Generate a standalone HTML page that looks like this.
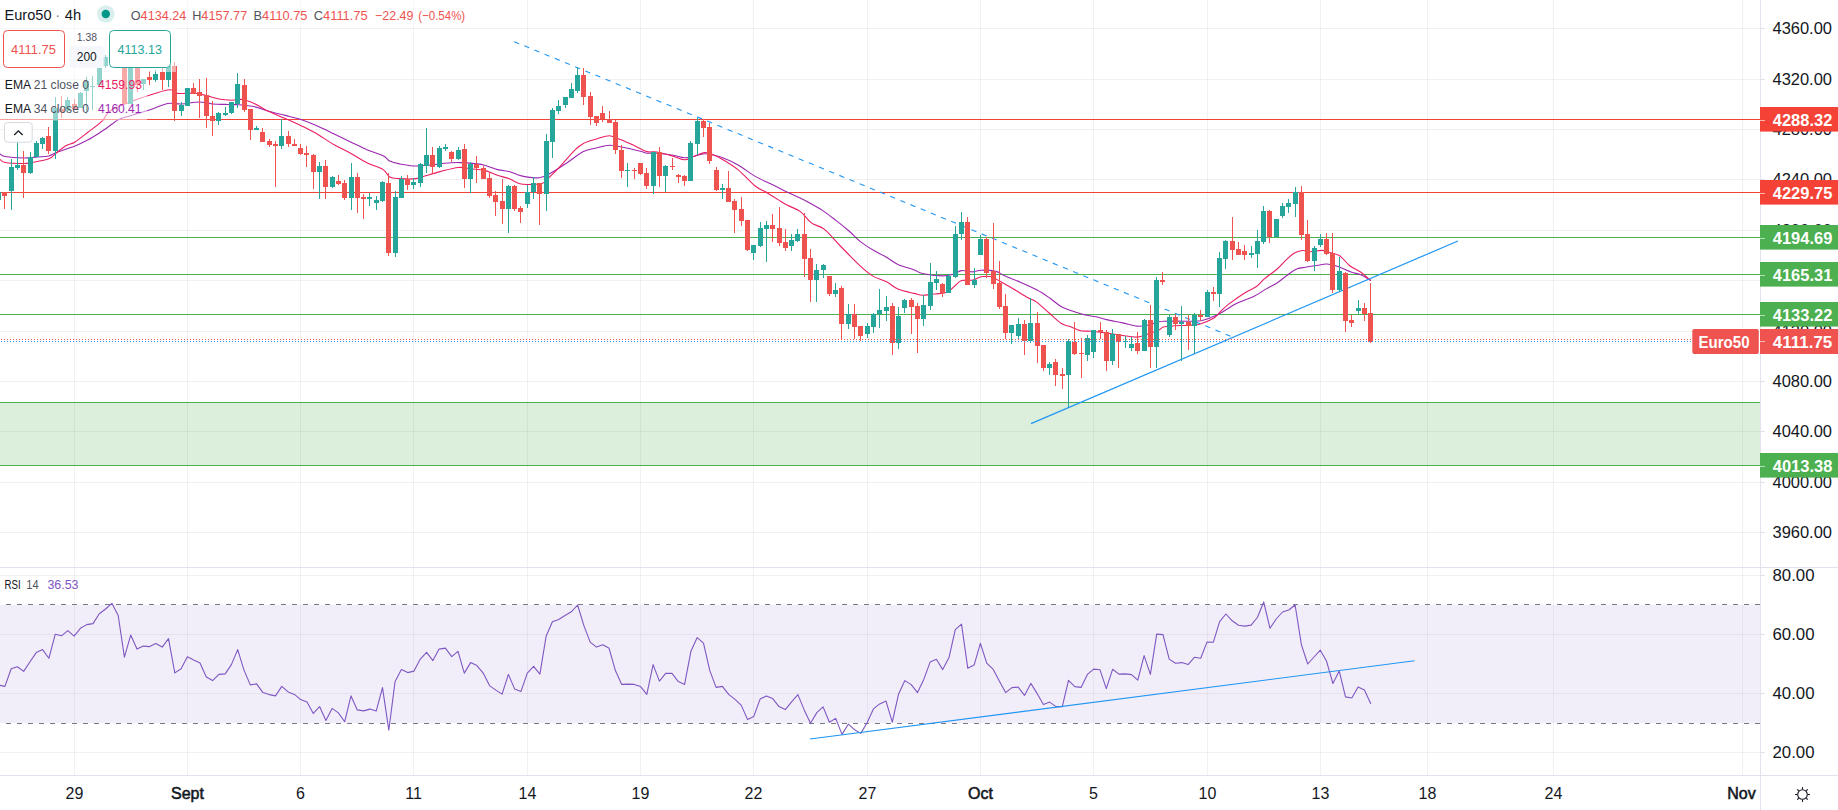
<!DOCTYPE html>
<html lang="en"><head><meta charset="utf-8"><title>Euro50 4h chart</title>
<style>html,body{margin:0;padding:0;background:#fff;}body{width:1838px;height:810px;overflow:hidden;font-family:"Liberation Sans",sans-serif;}svg{display:block}</style>
</head><body>
<svg width="1838" height="810" viewBox="0 0 1838 810" font-family="Liberation Sans, sans-serif">
<rect width="1838" height="810" fill="#fff"/>
<defs><clipPath id="cp"><rect x="0" y="0" width="1760" height="567"/></clipPath><clipPath id="cr"><rect x="0" y="568" width="1760" height="207"/></clipPath></defs>
<g shape-rendering="crispEdges">
<rect x="74" y="0" width="1" height="775" fill="#2a2e39" fill-opacity="0.065"/>
<rect x="187" y="0" width="1" height="775" fill="#2a2e39" fill-opacity="0.065"/>
<rect x="300" y="0" width="1" height="775" fill="#2a2e39" fill-opacity="0.065"/>
<rect x="413" y="0" width="1" height="775" fill="#2a2e39" fill-opacity="0.065"/>
<rect x="527" y="0" width="1" height="775" fill="#2a2e39" fill-opacity="0.065"/>
<rect x="640" y="0" width="1" height="775" fill="#2a2e39" fill-opacity="0.065"/>
<rect x="753" y="0" width="1" height="775" fill="#2a2e39" fill-opacity="0.065"/>
<rect x="867" y="0" width="1" height="775" fill="#2a2e39" fill-opacity="0.065"/>
<rect x="980" y="0" width="1" height="775" fill="#2a2e39" fill-opacity="0.065"/>
<rect x="1093" y="0" width="1" height="775" fill="#2a2e39" fill-opacity="0.065"/>
<rect x="1207" y="0" width="1" height="775" fill="#2a2e39" fill-opacity="0.065"/>
<rect x="1320" y="0" width="1" height="775" fill="#2a2e39" fill-opacity="0.065"/>
<rect x="1427" y="0" width="1" height="775" fill="#2a2e39" fill-opacity="0.065"/>
<rect x="1553" y="0" width="1" height="775" fill="#2a2e39" fill-opacity="0.065"/>
<rect x="1742" y="0" width="1" height="775" fill="#2a2e39" fill-opacity="0.065"/>
<rect x="0" y="28" width="1760" height="1" fill="#2a2e39" fill-opacity="0.065"/>
<rect x="0" y="79" width="1760" height="1" fill="#2a2e39" fill-opacity="0.065"/>
<rect x="0" y="129" width="1760" height="1" fill="#2a2e39" fill-opacity="0.065"/>
<rect x="0" y="179" width="1760" height="1" fill="#2a2e39" fill-opacity="0.065"/>
<rect x="0" y="230" width="1760" height="1" fill="#2a2e39" fill-opacity="0.065"/>
<rect x="0" y="280" width="1760" height="1" fill="#2a2e39" fill-opacity="0.065"/>
<rect x="0" y="331" width="1760" height="1" fill="#2a2e39" fill-opacity="0.065"/>
<rect x="0" y="381" width="1760" height="1" fill="#2a2e39" fill-opacity="0.065"/>
<rect x="0" y="431" width="1760" height="1" fill="#2a2e39" fill-opacity="0.065"/>
<rect x="0" y="482" width="1760" height="1" fill="#2a2e39" fill-opacity="0.065"/>
<rect x="0" y="532" width="1760" height="1" fill="#2a2e39" fill-opacity="0.065"/>
<rect x="0" y="575" width="1760" height="1" fill="#2a2e39" fill-opacity="0.065"/>
<rect x="0" y="634" width="1760" height="1" fill="#2a2e39" fill-opacity="0.065"/>
<rect x="0" y="693" width="1760" height="1" fill="#2a2e39" fill-opacity="0.065"/>
<rect x="0" y="752" width="1760" height="1" fill="#2a2e39" fill-opacity="0.065"/>
</g>
<g shape-rendering="crispEdges">
<rect x="0" y="605" width="1760" height="118" fill="#7e57c2" fill-opacity="0.1"/>
</g>
<line x1="0" y1="604.5" x2="1760" y2="604.5" stroke="#787b86" stroke-width="1" stroke-dasharray="5 6" stroke-dashoffset="5" shape-rendering="crispEdges"/>
<line x1="0" y1="723.5" x2="1760" y2="723.5" stroke="#787b86" stroke-width="1" stroke-dasharray="5 6" stroke-dashoffset="5" shape-rendering="crispEdges"/>
<g shape-rendering="crispEdges">
<rect x="0" y="402" width="1760" height="64" fill="#4caf50" fill-opacity="0.2"/>
<rect x="0" y="402" width="1760" height="1" fill="#4caf50"/>
<rect x="0" y="465" width="1760" height="1" fill="#4caf50"/>
<rect x="0" y="119" width="1760" height="1" fill="#f44336"/>
<rect x="0" y="192" width="1760" height="1" fill="#f44336"/>
<rect x="0" y="237" width="1760" height="1" fill="#4caf50"/>
<rect x="0" y="274" width="1760" height="1" fill="#4caf50"/>
<rect x="0" y="314" width="1760" height="1" fill="#4caf50"/>
</g>
<path d="M-2.0,153.5 C-1.7,153.6 -1.2,153.5 0.0,154.0 C1.2,154.5 1.0,155.8 5.0,156.5 C9.0,157.2 18.4,157.9 23.8,158.0 C29.2,158.1 33.3,157.3 37.5,157.0 C41.7,156.7 45.7,156.8 48.8,156.0 C51.9,155.2 51.9,154.2 56.3,152.5 C60.7,150.8 69.8,148.1 75.0,146.0 C80.2,143.9 83.4,142.2 87.6,140.0 C91.8,137.8 95.8,135.2 100.0,132.5 C104.2,129.8 109.5,125.9 112.6,123.8 C115.6,121.7 115.0,121.2 118.3,119.7 C121.6,118.2 127.4,116.7 132.7,115.0 C138.0,113.3 144.4,111.7 150.2,109.8 C156.0,107.9 162.5,104.5 167.7,103.5 C172.9,102.5 176.3,104.2 181.5,104.0 C186.7,103.8 193.8,102.0 199.0,102.0 C204.2,102.0 208.5,103.6 212.8,104.0 C217.1,104.4 221.1,104.3 225.0,104.4 C228.9,104.5 231.7,104.3 236.3,104.6 C240.9,104.9 247.2,105.2 252.6,106.3 C258.1,107.4 263.6,109.7 269.0,111.2 C274.4,112.7 279.9,114.0 285.3,115.4 C290.7,116.8 296.2,118.0 301.6,119.8 C307.0,121.6 312.5,123.9 317.9,126.3 C323.3,128.7 328.8,131.4 334.2,134.0 C339.6,136.6 345.2,139.3 350.6,141.9 C356.1,144.5 361.5,147.4 366.9,149.7 C372.3,152.0 379.4,153.8 383.2,155.7 C387.0,157.6 387.0,159.6 389.7,161.0 C392.4,162.4 395.1,163.1 399.5,163.9 C403.9,164.7 410.4,165.9 415.9,166.0 C421.3,166.1 426.8,165.2 432.2,164.7 C437.6,164.2 443.9,163.3 448.5,163.0 C453.1,162.7 454.5,162.4 459.9,162.6 C465.3,162.8 474.8,163.2 481.1,164.4 C487.4,165.6 492.7,168.4 497.5,169.6 C502.3,170.8 506.0,170.8 510.0,171.8 C514.0,172.9 516.5,174.9 521.4,175.9 C526.3,176.9 534.5,178.3 539.4,177.8 C544.3,177.3 546.2,175.5 550.8,173.0 C555.4,170.5 561.7,166.3 567.1,162.7 C572.5,159.1 578.5,154.0 583.4,151.6 C588.3,149.2 592.1,149.1 596.5,148.0 C600.9,146.9 605.0,145.3 609.6,145.2 C614.2,145.1 619.0,146.5 624.2,147.5 C629.4,148.5 636.8,150.4 640.6,151.3 C644.4,152.2 644.4,152.9 647.1,153.2 C649.8,153.5 652.5,152.8 656.9,153.2 C661.2,153.5 668.6,154.5 673.2,155.3 C677.8,156.1 681.1,157.7 684.6,157.8 C688.1,158.0 691.1,156.9 694.4,156.2 C697.7,155.5 701.2,153.9 704.2,153.7 C707.2,153.5 709.4,154.2 712.4,154.8 C715.4,155.4 717.9,155.8 722.2,157.5 C726.6,159.2 733.1,162.1 738.5,165.2 C743.9,168.3 749.4,172.9 754.8,176.1 C760.2,179.2 765.6,181.4 771.1,184.1 C776.6,186.8 782.3,189.8 787.5,192.3 C792.7,194.8 798.4,197.3 802.1,199.1 C805.9,200.9 806.5,201.3 810.0,203.2 C813.5,205.1 818.5,207.7 822.8,210.6 C827.1,213.5 831.5,217.0 835.9,220.4 C840.3,223.8 844.9,227.5 849.0,231.0 C853.1,234.5 856.3,238.4 860.4,241.6 C864.5,244.8 869.0,247.7 873.4,250.3 C877.8,252.9 882.4,254.8 886.5,257.2 C890.6,259.6 893.3,262.4 897.9,264.5 C902.5,266.6 910.1,268.4 914.2,269.9 C918.3,271.4 917.8,272.5 922.4,273.5 C927.0,274.5 936.8,275.8 942.0,275.9 C947.2,276.0 950.1,275.2 953.4,274.3 C956.7,273.4 958.3,271.0 961.6,270.6 C964.9,270.2 969.7,272.0 973.0,271.9 C976.3,271.8 977.4,270.3 981.2,270.2 C985.0,270.1 992.1,270.5 995.9,271.4 C999.7,272.3 999.9,273.7 1004.0,275.5 C1008.1,277.3 1014.8,279.8 1020.3,282.2 C1025.8,284.6 1031.8,287.2 1036.7,289.8 C1041.6,292.4 1045.6,295.2 1049.7,298.0 C1053.8,300.8 1056.5,304.0 1061.1,306.5 C1065.7,309.0 1073.1,311.3 1077.5,312.8 C1081.9,314.3 1083.8,314.6 1087.3,315.3 C1090.8,316.0 1095.0,316.5 1098.2,317.2 C1101.4,317.9 1102.2,318.7 1106.3,319.6 C1110.4,320.6 1117.4,321.8 1122.6,322.9 C1127.8,324.0 1133.2,325.7 1137.3,326.1 C1141.4,326.5 1144.1,325.8 1147.1,325.3 C1150.1,324.8 1152.6,323.6 1155.3,322.9 C1158.0,322.2 1158.0,321.5 1163.4,321.2 C1168.8,320.9 1181.6,321.3 1187.9,321.2 C1194.2,321.1 1196.7,321.6 1201.0,320.8 C1205.3,320.0 1210.7,317.6 1214.0,316.3 C1217.3,315.0 1216.8,315.3 1220.6,313.1 C1224.4,310.9 1231.5,306.0 1236.9,303.3 C1242.3,300.6 1248.3,299.1 1253.2,296.7 C1258.1,294.3 1262.2,291.3 1266.3,288.9 C1270.4,286.5 1273.9,285.0 1277.7,282.5 C1281.5,280.0 1285.8,276.0 1289.1,273.7 C1292.4,271.4 1294.6,269.9 1297.3,268.8 C1300.0,267.7 1301.9,267.8 1305.4,267.2 C1308.9,266.6 1315.0,265.7 1318.5,265.2 C1322.0,264.7 1323.4,263.8 1326.7,264.0 C1330.0,264.2 1334.0,265.0 1338.1,266.4 C1342.2,267.8 1347.3,270.7 1351.1,272.1 C1354.9,273.5 1357.7,273.4 1360.9,274.8 C1364.1,276.2 1368.8,279.4 1370.4,280.3" fill="none" stroke="#9c27b0" stroke-width="1.1" stroke-linejoin="round" stroke-linecap="round"/>
<path d="M-2.0,158.5 C-1.7,158.7 -1.2,158.7 0.0,159.4 C1.2,160.1 1.0,161.8 5.0,162.5 C9.0,163.2 19.2,163.5 23.8,163.5 C28.4,163.5 28.3,163.3 32.5,162.5 C36.7,161.7 44.8,160.4 48.8,158.8 C52.8,157.2 53.4,155.2 56.3,153.0 C59.2,150.8 63.2,147.4 66.3,145.6 C69.4,143.8 71.5,144.2 75.0,142.0 C78.5,139.8 83.0,136.1 87.6,132.5 C92.2,128.9 98.9,124.2 102.6,120.6 C106.3,117.0 105.0,114.3 110.0,111.0 C115.0,107.7 123.1,104.5 132.7,101.0 C142.3,97.5 160.7,91.3 167.7,90.0 C174.7,88.7 172.2,92.4 174.5,93.0 C176.8,93.6 178.1,93.5 181.5,93.5 C184.9,93.5 191.0,92.9 195.2,93.2 C199.4,93.5 202.5,94.6 206.5,95.6 C210.5,96.6 214.8,98.2 219.0,99.0 C223.2,99.8 227.7,100.1 231.4,100.2 C235.1,100.3 237.7,99.0 241.2,99.4 C244.7,99.8 248.0,100.7 252.6,102.7 C257.2,104.7 263.6,109.0 269.0,111.6 C274.4,114.2 279.9,116.1 285.3,118.5 C290.7,120.9 296.2,123.2 301.6,125.9 C307.0,128.6 312.5,131.3 317.9,134.5 C323.3,137.7 328.8,141.7 334.2,144.8 C339.6,147.9 345.2,150.3 350.6,153.3 C356.1,156.3 361.5,160.1 366.9,162.8 C372.3,165.5 379.4,167.2 383.2,169.6 C387.0,172.0 387.0,175.5 389.7,177.0 C392.4,178.5 395.1,178.3 399.5,178.6 C403.9,178.9 411.5,179.1 415.9,178.6 C420.2,178.1 421.5,177.0 425.6,175.8 C429.7,174.6 434.9,173.0 440.3,171.6 C445.8,170.2 453.1,168.0 458.3,167.5 C463.5,167.0 467.0,168.3 471.3,168.8 C475.6,169.3 480.0,169.3 484.4,170.4 C488.8,171.5 493.4,173.9 497.5,175.3 C501.6,176.7 505.2,177.2 508.9,178.6 C512.6,180.0 516.1,182.8 519.8,183.8 C523.5,184.8 527.4,184.5 531.2,184.4 C535.0,184.3 539.6,184.5 542.6,183.3 C545.6,182.1 546.5,180.0 549.2,177.4 C551.9,174.8 554.6,172.2 559.0,167.6 C563.4,163.0 571.2,153.6 575.3,149.6 C579.4,145.6 579.9,145.2 583.4,143.4 C586.9,141.6 592.1,140.3 596.5,139.0 C600.9,137.7 605.5,135.6 609.6,135.7 C613.7,135.8 616.9,138.2 621.0,139.8 C625.1,141.4 629.6,143.5 634.0,145.5 C638.4,147.5 643.3,150.5 647.1,151.6 C650.9,152.7 652.5,151.2 656.9,152.0 C661.2,152.8 668.6,154.9 673.2,156.2 C677.8,157.5 681.1,159.8 684.6,159.8 C688.1,159.8 691.1,157.4 694.4,156.2 C697.7,155.0 701.2,152.9 704.2,152.6 C707.2,152.3 709.4,153.4 712.4,154.5 C715.4,155.6 717.9,156.7 722.2,159.3 C726.6,161.9 733.1,165.7 738.5,170.1 C743.9,174.5 750.2,182.0 754.8,185.7 C759.4,189.4 762.1,189.9 766.2,192.3 C770.3,194.8 775.8,198.2 779.3,200.4 C782.8,202.6 784.0,203.4 787.5,205.3 C791.0,207.2 796.5,208.7 800.5,211.6 C804.5,214.5 807.4,219.9 811.4,222.9 C815.4,225.9 819.6,225.5 824.5,229.4 C829.4,233.3 834.8,240.4 840.8,246.5 C846.8,252.6 855.0,261.1 860.4,266.1 C865.8,271.1 869.0,273.8 873.4,276.4 C877.8,279.0 882.4,279.6 886.5,281.7 C890.6,283.8 893.3,287.1 897.9,289.0 C902.5,290.9 910.1,292.4 914.2,293.4 C918.3,294.4 919.7,295.0 922.4,295.2 C925.1,295.4 926.5,294.9 930.6,294.4 C934.7,293.9 942.8,293.8 946.9,292.3 C951.0,290.9 952.5,287.7 955.0,285.7 C957.5,283.7 958.6,281.4 961.6,280.5 C964.6,279.6 969.7,280.6 973.0,280.0 C976.3,279.4 978.2,277.3 981.2,276.8 C984.2,276.3 987.7,276.0 991.0,276.8 C994.3,277.6 997.3,279.8 1000.8,281.7 C1004.3,283.6 1007.6,285.5 1012.2,288.2 C1016.8,290.9 1024.4,295.7 1028.5,298.0 C1032.6,300.3 1033.2,299.5 1036.7,302.1 C1040.2,304.7 1045.6,310.0 1049.7,313.5 C1053.8,317.0 1057.8,321.2 1061.1,323.3 C1064.4,325.4 1066.0,325.1 1069.3,326.3 C1072.6,327.6 1077.2,330.0 1080.7,330.8 C1084.2,331.6 1086.2,330.8 1090.5,331.2 C1094.8,331.6 1101.0,332.3 1106.3,333.0 C1111.6,333.7 1117.4,334.8 1122.6,335.5 C1127.8,336.2 1133.2,337.3 1137.3,337.1 C1141.4,336.9 1143.6,335.5 1147.1,334.3 C1150.6,333.1 1155.8,331.4 1158.5,330.2 C1161.2,329.0 1160.7,327.7 1163.4,327.0 C1166.1,326.3 1170.8,326.1 1174.9,325.8 C1179.0,325.5 1183.8,325.6 1187.9,325.3 C1192.0,325.0 1195.1,325.4 1199.4,324.2 C1203.8,323.0 1210.5,320.1 1214.0,318.0 C1217.5,315.9 1218.1,313.7 1220.6,311.4 C1223.0,309.1 1224.6,307.2 1228.7,304.1 C1232.8,301.0 1240.4,295.6 1245.0,292.7 C1249.6,289.8 1253.2,288.8 1256.5,286.5 C1259.8,284.2 1261.1,281.7 1264.6,278.7 C1268.1,275.7 1274.2,271.6 1277.7,268.5 C1281.2,265.4 1283.2,262.7 1285.9,260.2 C1288.6,257.7 1291.3,254.9 1294.0,253.3 C1296.7,251.7 1299.5,250.8 1302.2,250.5 C1304.9,250.2 1307.0,251.7 1310.3,251.7 C1313.6,251.7 1318.5,250.3 1321.8,250.4 C1325.1,250.5 1326.9,251.6 1329.9,252.5 C1332.9,253.4 1336.4,253.5 1339.7,255.7 C1343.0,257.9 1346.0,262.7 1349.5,265.5 C1353.0,268.3 1357.4,269.8 1360.9,272.3 C1364.4,274.8 1368.8,279.0 1370.4,280.3" fill="none" stroke="#e91e63" stroke-width="1.1" stroke-linejoin="round" stroke-linecap="round"/>
<line x1="514.1" y1="41.65" x2="1233.5" y2="337.4" stroke="#2196f3" stroke-width="1.1" stroke-dasharray="5.3 5.69"/>
<line x1="1031" y1="423.6" x2="1458" y2="241" stroke="#2196f3" stroke-width="1.2"/>
<g shape-rendering="crispEdges" clip-path="url(#cp)">
<rect x="-2" y="192" width="1" height="8" fill="#26a69a"/>
<rect x="-4" y="192" width="5" height="8" fill="#26a69a"/>
<rect x="4" y="192" width="1" height="17" fill="#ef5350"/>
<rect x="2" y="192" width="5" height="4" fill="#ef5350"/>
<rect x="11" y="159" width="1" height="51" fill="#26a69a"/>
<rect x="9" y="167" width="5" height="24" fill="#26a69a"/>
<rect x="17" y="140" width="1" height="30" fill="#26a69a"/>
<rect x="15" y="165" width="5" height="3" fill="#26a69a"/>
<rect x="23" y="151" width="1" height="47" fill="#ef5350"/>
<rect x="21" y="165" width="5" height="8" fill="#ef5350"/>
<rect x="30" y="152" width="1" height="22" fill="#26a69a"/>
<rect x="28" y="157" width="5" height="16" fill="#26a69a"/>
<rect x="36" y="141" width="1" height="16" fill="#26a69a"/>
<rect x="34" y="143" width="5" height="14" fill="#26a69a"/>
<rect x="42" y="137" width="1" height="12" fill="#26a69a"/>
<rect x="40" y="138" width="5" height="6" fill="#26a69a"/>
<rect x="48" y="127" width="1" height="27" fill="#ef5350"/>
<rect x="46" y="136" width="5" height="15" fill="#ef5350"/>
<rect x="55" y="97" width="1" height="62" fill="#26a69a"/>
<rect x="53" y="108" width="5" height="43" fill="#26a69a"/>
<rect x="61" y="96" width="1" height="22" fill="#ef5350"/>
<rect x="59" y="109" width="5" height="3" fill="#ef5350"/>
<rect x="67" y="97" width="1" height="15" fill="#26a69a"/>
<rect x="65" y="100" width="5" height="11" fill="#26a69a"/>
<rect x="74" y="99" width="1" height="11" fill="#ef5350"/>
<rect x="72" y="104" width="5" height="5" fill="#ef5350"/>
<rect x="80" y="92" width="1" height="16" fill="#26a69a"/>
<rect x="78" y="93" width="5" height="15" fill="#26a69a"/>
<rect x="86" y="77" width="1" height="37" fill="#26a69a"/>
<rect x="84" y="81" width="5" height="10" fill="#26a69a"/>
<rect x="92" y="76" width="1" height="34" fill="#26a69a"/>
<rect x="90" y="86" width="5" height="1" fill="#26a69a"/>
<rect x="99" y="68" width="1" height="18" fill="#26a69a"/>
<rect x="97" y="68" width="5" height="17" fill="#26a69a"/>
<rect x="105" y="55" width="1" height="13" fill="#26a69a"/>
<rect x="103" y="57" width="5" height="9" fill="#26a69a"/>
<rect x="111" y="46" width="1" height="12" fill="#26a69a"/>
<rect x="109" y="48" width="5" height="9" fill="#26a69a"/>
<rect x="118" y="45" width="1" height="10" fill="#ef5350"/>
<rect x="116" y="48" width="5" height="4" fill="#ef5350"/>
<rect x="124" y="48" width="1" height="56" fill="#ef5350"/>
<rect x="122" y="50" width="5" height="54" fill="#ef5350"/>
<rect x="130" y="58" width="1" height="46" fill="#26a69a"/>
<rect x="128" y="60" width="5" height="44" fill="#26a69a"/>
<rect x="137" y="58" width="1" height="34" fill="#ef5350"/>
<rect x="135" y="60" width="5" height="25" fill="#ef5350"/>
<rect x="143" y="79" width="1" height="11" fill="#26a69a"/>
<rect x="141" y="79" width="5" height="5" fill="#26a69a"/>
<rect x="149" y="71" width="1" height="14" fill="#ef5350"/>
<rect x="147" y="77" width="5" height="3" fill="#ef5350"/>
<rect x="155" y="70" width="1" height="12" fill="#26a69a"/>
<rect x="153" y="74" width="5" height="6" fill="#26a69a"/>
<rect x="162" y="68" width="1" height="22" fill="#ef5350"/>
<rect x="160" y="72" width="5" height="8" fill="#ef5350"/>
<rect x="168" y="66" width="1" height="21" fill="#26a69a"/>
<rect x="166" y="66" width="5" height="14" fill="#26a69a"/>
<rect x="174" y="62" width="1" height="59" fill="#ef5350"/>
<rect x="172" y="66" width="5" height="45" fill="#ef5350"/>
<rect x="181" y="102" width="1" height="14" fill="#26a69a"/>
<rect x="179" y="105" width="5" height="6" fill="#26a69a"/>
<rect x="187" y="88" width="1" height="18" fill="#26a69a"/>
<rect x="185" y="88" width="5" height="18" fill="#26a69a"/>
<rect x="193" y="83" width="1" height="11" fill="#ef5350"/>
<rect x="191" y="88" width="5" height="6" fill="#ef5350"/>
<rect x="199" y="79" width="1" height="39" fill="#ef5350"/>
<rect x="197" y="92" width="5" height="4" fill="#ef5350"/>
<rect x="206" y="78" width="1" height="50" fill="#ef5350"/>
<rect x="204" y="95" width="5" height="21" fill="#ef5350"/>
<rect x="212" y="101" width="1" height="35" fill="#ef5350"/>
<rect x="210" y="116" width="5" height="5" fill="#ef5350"/>
<rect x="218" y="112" width="1" height="13" fill="#26a69a"/>
<rect x="216" y="113" width="5" height="8" fill="#26a69a"/>
<rect x="225" y="107" width="1" height="9" fill="#26a69a"/>
<rect x="223" y="113" width="5" height="2" fill="#26a69a"/>
<rect x="231" y="102" width="1" height="12" fill="#26a69a"/>
<rect x="229" y="102" width="5" height="11" fill="#26a69a"/>
<rect x="237" y="73" width="1" height="35" fill="#26a69a"/>
<rect x="235" y="84" width="5" height="20" fill="#26a69a"/>
<rect x="244" y="79" width="1" height="33" fill="#ef5350"/>
<rect x="242" y="85" width="5" height="25" fill="#ef5350"/>
<rect x="250" y="109" width="1" height="31" fill="#ef5350"/>
<rect x="248" y="109" width="5" height="21" fill="#ef5350"/>
<rect x="256" y="126" width="1" height="4" fill="#26a69a"/>
<rect x="254" y="128" width="5" height="2" fill="#26a69a"/>
<rect x="262" y="128" width="1" height="14" fill="#ef5350"/>
<rect x="260" y="132" width="5" height="10" fill="#ef5350"/>
<rect x="269" y="139" width="1" height="8" fill="#ef5350"/>
<rect x="267" y="141" width="5" height="4" fill="#ef5350"/>
<rect x="275" y="141" width="1" height="46" fill="#ef5350"/>
<rect x="273" y="144" width="5" height="2" fill="#ef5350"/>
<rect x="281" y="119" width="1" height="30" fill="#26a69a"/>
<rect x="279" y="136" width="5" height="10" fill="#26a69a"/>
<rect x="288" y="131" width="1" height="16" fill="#ef5350"/>
<rect x="286" y="136" width="5" height="8" fill="#ef5350"/>
<rect x="294" y="139" width="1" height="7" fill="#ef5350"/>
<rect x="292" y="144" width="5" height="2" fill="#ef5350"/>
<rect x="300" y="144" width="1" height="11" fill="#ef5350"/>
<rect x="298" y="148" width="5" height="6" fill="#ef5350"/>
<rect x="306" y="146" width="1" height="21" fill="#ef5350"/>
<rect x="304" y="153" width="5" height="2" fill="#ef5350"/>
<rect x="313" y="154" width="1" height="35" fill="#ef5350"/>
<rect x="311" y="155" width="5" height="17" fill="#ef5350"/>
<rect x="319" y="162" width="1" height="37" fill="#26a69a"/>
<rect x="317" y="166" width="5" height="6" fill="#26a69a"/>
<rect x="325" y="160" width="1" height="39" fill="#ef5350"/>
<rect x="323" y="166" width="5" height="21" fill="#ef5350"/>
<rect x="332" y="176" width="1" height="12" fill="#26a69a"/>
<rect x="330" y="177" width="5" height="10" fill="#26a69a"/>
<rect x="338" y="175" width="1" height="10" fill="#ef5350"/>
<rect x="336" y="181" width="5" height="3" fill="#ef5350"/>
<rect x="344" y="180" width="1" height="20" fill="#ef5350"/>
<rect x="342" y="183" width="5" height="15" fill="#ef5350"/>
<rect x="351" y="163" width="1" height="47" fill="#26a69a"/>
<rect x="349" y="177" width="5" height="21" fill="#26a69a"/>
<rect x="357" y="173" width="1" height="40" fill="#ef5350"/>
<rect x="355" y="177" width="5" height="21" fill="#ef5350"/>
<rect x="363" y="194" width="1" height="25" fill="#ef5350"/>
<rect x="361" y="197" width="5" height="2" fill="#ef5350"/>
<rect x="369" y="193" width="1" height="13" fill="#26a69a"/>
<rect x="367" y="197" width="5" height="2" fill="#26a69a"/>
<rect x="376" y="196" width="1" height="14" fill="#26a69a"/>
<rect x="374" y="200" width="5" height="3" fill="#26a69a"/>
<rect x="382" y="181" width="1" height="21" fill="#26a69a"/>
<rect x="380" y="182" width="5" height="19" fill="#26a69a"/>
<rect x="388" y="173" width="1" height="83" fill="#ef5350"/>
<rect x="386" y="183" width="5" height="70" fill="#ef5350"/>
<rect x="395" y="191" width="1" height="66" fill="#26a69a"/>
<rect x="393" y="197" width="5" height="56" fill="#26a69a"/>
<rect x="401" y="176" width="1" height="22" fill="#26a69a"/>
<rect x="399" y="179" width="5" height="19" fill="#26a69a"/>
<rect x="407" y="175" width="1" height="15" fill="#ef5350"/>
<rect x="405" y="179" width="5" height="6" fill="#ef5350"/>
<rect x="413" y="178" width="1" height="11" fill="#26a69a"/>
<rect x="411" y="182" width="5" height="3" fill="#26a69a"/>
<rect x="420" y="163" width="1" height="24" fill="#26a69a"/>
<rect x="418" y="164" width="5" height="19" fill="#26a69a"/>
<rect x="426" y="128" width="1" height="45" fill="#26a69a"/>
<rect x="424" y="155" width="5" height="11" fill="#26a69a"/>
<rect x="432" y="147" width="1" height="27" fill="#ef5350"/>
<rect x="430" y="155" width="5" height="12" fill="#ef5350"/>
<rect x="439" y="146" width="1" height="22" fill="#26a69a"/>
<rect x="437" y="148" width="5" height="19" fill="#26a69a"/>
<rect x="445" y="144" width="1" height="7" fill="#26a69a"/>
<rect x="443" y="147" width="5" height="2" fill="#26a69a"/>
<rect x="451" y="151" width="1" height="11" fill="#ef5350"/>
<rect x="449" y="152" width="5" height="7" fill="#ef5350"/>
<rect x="458" y="147" width="1" height="13" fill="#26a69a"/>
<rect x="456" y="150" width="5" height="9" fill="#26a69a"/>
<rect x="464" y="144" width="1" height="44" fill="#ef5350"/>
<rect x="462" y="149" width="5" height="30" fill="#ef5350"/>
<rect x="470" y="162" width="1" height="31" fill="#26a69a"/>
<rect x="468" y="164" width="5" height="15" fill="#26a69a"/>
<rect x="476" y="156" width="1" height="27" fill="#ef5350"/>
<rect x="474" y="164" width="5" height="4" fill="#ef5350"/>
<rect x="483" y="166" width="1" height="13" fill="#ef5350"/>
<rect x="481" y="168" width="5" height="11" fill="#ef5350"/>
<rect x="489" y="173" width="1" height="25" fill="#ef5350"/>
<rect x="487" y="178" width="5" height="18" fill="#ef5350"/>
<rect x="495" y="191" width="1" height="25" fill="#ef5350"/>
<rect x="493" y="195" width="5" height="7" fill="#ef5350"/>
<rect x="502" y="179" width="1" height="45" fill="#ef5350"/>
<rect x="500" y="201" width="5" height="8" fill="#ef5350"/>
<rect x="508" y="185" width="1" height="48" fill="#26a69a"/>
<rect x="506" y="186" width="5" height="23" fill="#26a69a"/>
<rect x="514" y="185" width="1" height="26" fill="#ef5350"/>
<rect x="512" y="186" width="5" height="23" fill="#ef5350"/>
<rect x="520" y="206" width="1" height="17" fill="#ef5350"/>
<rect x="518" y="208" width="5" height="4" fill="#ef5350"/>
<rect x="527" y="185" width="1" height="23" fill="#26a69a"/>
<rect x="525" y="192" width="5" height="12" fill="#26a69a"/>
<rect x="533" y="177" width="1" height="22" fill="#26a69a"/>
<rect x="531" y="183" width="5" height="9" fill="#26a69a"/>
<rect x="539" y="183" width="1" height="42" fill="#ef5350"/>
<rect x="537" y="183" width="5" height="11" fill="#ef5350"/>
<rect x="546" y="134" width="1" height="77" fill="#26a69a"/>
<rect x="544" y="141" width="5" height="53" fill="#26a69a"/>
<rect x="552" y="108" width="1" height="50" fill="#26a69a"/>
<rect x="550" y="110" width="5" height="32" fill="#26a69a"/>
<rect x="558" y="100" width="1" height="14" fill="#26a69a"/>
<rect x="556" y="106" width="5" height="5" fill="#26a69a"/>
<rect x="565" y="97" width="1" height="11" fill="#26a69a"/>
<rect x="563" y="97" width="5" height="8" fill="#26a69a"/>
<rect x="571" y="83" width="1" height="15" fill="#26a69a"/>
<rect x="569" y="89" width="5" height="9" fill="#26a69a"/>
<rect x="577" y="67" width="1" height="26" fill="#26a69a"/>
<rect x="575" y="75" width="5" height="16" fill="#26a69a"/>
<rect x="583" y="68" width="1" height="37" fill="#ef5350"/>
<rect x="581" y="75" width="5" height="22" fill="#ef5350"/>
<rect x="590" y="92" width="1" height="33" fill="#ef5350"/>
<rect x="588" y="96" width="5" height="21" fill="#ef5350"/>
<rect x="596" y="116" width="1" height="10" fill="#ef5350"/>
<rect x="594" y="116" width="5" height="7" fill="#ef5350"/>
<rect x="602" y="106" width="1" height="16" fill="#ef5350"/>
<rect x="600" y="113" width="5" height="6" fill="#ef5350"/>
<rect x="609" y="111" width="1" height="12" fill="#ef5350"/>
<rect x="607" y="119" width="5" height="4" fill="#ef5350"/>
<rect x="615" y="120" width="1" height="34" fill="#ef5350"/>
<rect x="613" y="122" width="5" height="28" fill="#ef5350"/>
<rect x="621" y="145" width="1" height="33" fill="#ef5350"/>
<rect x="619" y="150" width="5" height="21" fill="#ef5350"/>
<rect x="627" y="163" width="1" height="24" fill="#26a69a"/>
<rect x="625" y="170" width="5" height="1" fill="#26a69a"/>
<rect x="634" y="168" width="1" height="11" fill="#ef5350"/>
<rect x="632" y="170" width="5" height="1" fill="#ef5350"/>
<rect x="640" y="163" width="1" height="12" fill="#ef5350"/>
<rect x="638" y="163" width="5" height="11" fill="#ef5350"/>
<rect x="646" y="168" width="1" height="21" fill="#ef5350"/>
<rect x="644" y="173" width="5" height="13" fill="#ef5350"/>
<rect x="653" y="152" width="1" height="42" fill="#26a69a"/>
<rect x="651" y="152" width="5" height="34" fill="#26a69a"/>
<rect x="659" y="147" width="1" height="40" fill="#ef5350"/>
<rect x="657" y="152" width="5" height="24" fill="#ef5350"/>
<rect x="665" y="165" width="1" height="27" fill="#26a69a"/>
<rect x="663" y="166" width="5" height="10" fill="#26a69a"/>
<rect x="672" y="158" width="1" height="12" fill="#ef5350"/>
<rect x="670" y="166" width="5" height="1" fill="#ef5350"/>
<rect x="678" y="174" width="1" height="9" fill="#ef5350"/>
<rect x="676" y="175" width="5" height="2" fill="#ef5350"/>
<rect x="684" y="175" width="1" height="11" fill="#ef5350"/>
<rect x="682" y="176" width="5" height="5" fill="#ef5350"/>
<rect x="690" y="141" width="1" height="40" fill="#26a69a"/>
<rect x="688" y="143" width="5" height="38" fill="#26a69a"/>
<rect x="697" y="118" width="1" height="37" fill="#26a69a"/>
<rect x="695" y="121" width="5" height="23" fill="#26a69a"/>
<rect x="703" y="120" width="1" height="17" fill="#ef5350"/>
<rect x="701" y="121" width="5" height="7" fill="#ef5350"/>
<rect x="709" y="123" width="1" height="41" fill="#ef5350"/>
<rect x="707" y="127" width="5" height="34" fill="#ef5350"/>
<rect x="716" y="167" width="1" height="24" fill="#ef5350"/>
<rect x="714" y="170" width="5" height="20" fill="#ef5350"/>
<rect x="722" y="184" width="1" height="15" fill="#26a69a"/>
<rect x="720" y="188" width="5" height="2" fill="#26a69a"/>
<rect x="728" y="171" width="1" height="31" fill="#ef5350"/>
<rect x="726" y="188" width="5" height="14" fill="#ef5350"/>
<rect x="734" y="199" width="1" height="34" fill="#ef5350"/>
<rect x="732" y="201" width="5" height="9" fill="#ef5350"/>
<rect x="741" y="197" width="1" height="29" fill="#ef5350"/>
<rect x="739" y="209" width="5" height="12" fill="#ef5350"/>
<rect x="747" y="220" width="1" height="31" fill="#ef5350"/>
<rect x="745" y="220" width="5" height="30" fill="#ef5350"/>
<rect x="753" y="245" width="1" height="15" fill="#26a69a"/>
<rect x="751" y="245" width="5" height="8" fill="#26a69a"/>
<rect x="760" y="222" width="1" height="25" fill="#26a69a"/>
<rect x="758" y="228" width="5" height="18" fill="#26a69a"/>
<rect x="766" y="221" width="1" height="41" fill="#26a69a"/>
<rect x="764" y="225" width="5" height="4" fill="#26a69a"/>
<rect x="772" y="214" width="1" height="28" fill="#ef5350"/>
<rect x="770" y="225" width="5" height="4" fill="#ef5350"/>
<rect x="779" y="207" width="1" height="39" fill="#ef5350"/>
<rect x="777" y="228" width="5" height="15" fill="#ef5350"/>
<rect x="785" y="229" width="1" height="22" fill="#ef5350"/>
<rect x="783" y="242" width="5" height="6" fill="#ef5350"/>
<rect x="791" y="234" width="1" height="17" fill="#26a69a"/>
<rect x="789" y="240" width="5" height="6" fill="#26a69a"/>
<rect x="797" y="229" width="1" height="13" fill="#26a69a"/>
<rect x="795" y="234" width="5" height="7" fill="#26a69a"/>
<rect x="804" y="213" width="1" height="64" fill="#ef5350"/>
<rect x="802" y="234" width="5" height="25" fill="#ef5350"/>
<rect x="810" y="249" width="1" height="53" fill="#ef5350"/>
<rect x="808" y="258" width="5" height="22" fill="#ef5350"/>
<rect x="816" y="264" width="1" height="38" fill="#26a69a"/>
<rect x="814" y="270" width="5" height="10" fill="#26a69a"/>
<rect x="823" y="264" width="1" height="14" fill="#26a69a"/>
<rect x="821" y="265" width="5" height="5" fill="#26a69a"/>
<rect x="829" y="276" width="1" height="20" fill="#ef5350"/>
<rect x="827" y="276" width="5" height="18" fill="#ef5350"/>
<rect x="835" y="283" width="1" height="14" fill="#26a69a"/>
<rect x="833" y="290" width="5" height="4" fill="#26a69a"/>
<rect x="841" y="286" width="1" height="53" fill="#ef5350"/>
<rect x="839" y="288" width="5" height="36" fill="#ef5350"/>
<rect x="848" y="304" width="1" height="25" fill="#26a69a"/>
<rect x="846" y="314" width="5" height="10" fill="#26a69a"/>
<rect x="854" y="304" width="1" height="35" fill="#ef5350"/>
<rect x="852" y="314" width="5" height="13" fill="#ef5350"/>
<rect x="860" y="326" width="1" height="15" fill="#ef5350"/>
<rect x="858" y="326" width="5" height="10" fill="#ef5350"/>
<rect x="867" y="323" width="1" height="15" fill="#26a69a"/>
<rect x="865" y="326" width="5" height="8" fill="#26a69a"/>
<rect x="873" y="313" width="1" height="20" fill="#26a69a"/>
<rect x="871" y="314" width="5" height="13" fill="#26a69a"/>
<rect x="879" y="289" width="1" height="39" fill="#26a69a"/>
<rect x="877" y="310" width="5" height="4" fill="#26a69a"/>
<rect x="886" y="296" width="1" height="25" fill="#26a69a"/>
<rect x="884" y="307" width="5" height="4" fill="#26a69a"/>
<rect x="892" y="303" width="1" height="52" fill="#ef5350"/>
<rect x="890" y="306" width="5" height="37" fill="#ef5350"/>
<rect x="898" y="307" width="1" height="42" fill="#26a69a"/>
<rect x="896" y="316" width="5" height="27" fill="#26a69a"/>
<rect x="904" y="299" width="1" height="14" fill="#26a69a"/>
<rect x="902" y="300" width="5" height="8" fill="#26a69a"/>
<rect x="911" y="298" width="1" height="36" fill="#ef5350"/>
<rect x="909" y="300" width="5" height="7" fill="#ef5350"/>
<rect x="917" y="303" width="1" height="50" fill="#ef5350"/>
<rect x="915" y="306" width="5" height="13" fill="#ef5350"/>
<rect x="923" y="295" width="1" height="31" fill="#26a69a"/>
<rect x="921" y="305" width="5" height="14" fill="#26a69a"/>
<rect x="930" y="263" width="1" height="47" fill="#26a69a"/>
<rect x="928" y="282" width="5" height="24" fill="#26a69a"/>
<rect x="936" y="271" width="1" height="19" fill="#26a69a"/>
<rect x="934" y="279" width="5" height="4" fill="#26a69a"/>
<rect x="942" y="283" width="1" height="14" fill="#ef5350"/>
<rect x="940" y="284" width="5" height="9" fill="#ef5350"/>
<rect x="948" y="274" width="1" height="19" fill="#26a69a"/>
<rect x="946" y="276" width="5" height="17" fill="#26a69a"/>
<rect x="955" y="226" width="1" height="52" fill="#26a69a"/>
<rect x="953" y="234" width="5" height="43" fill="#26a69a"/>
<rect x="961" y="212" width="1" height="28" fill="#26a69a"/>
<rect x="959" y="222" width="5" height="12" fill="#26a69a"/>
<rect x="967" y="217" width="1" height="68" fill="#ef5350"/>
<rect x="965" y="222" width="5" height="63" fill="#ef5350"/>
<rect x="974" y="268" width="1" height="20" fill="#26a69a"/>
<rect x="972" y="280" width="5" height="5" fill="#26a69a"/>
<rect x="980" y="235" width="1" height="20" fill="#26a69a"/>
<rect x="978" y="239" width="5" height="16" fill="#26a69a"/>
<rect x="986" y="237" width="1" height="41" fill="#ef5350"/>
<rect x="984" y="239" width="5" height="34" fill="#ef5350"/>
<rect x="993" y="223" width="1" height="66" fill="#ef5350"/>
<rect x="991" y="271" width="5" height="13" fill="#ef5350"/>
<rect x="999" y="261" width="1" height="48" fill="#ef5350"/>
<rect x="997" y="283" width="5" height="24" fill="#ef5350"/>
<rect x="1005" y="294" width="1" height="45" fill="#ef5350"/>
<rect x="1003" y="306" width="5" height="27" fill="#ef5350"/>
<rect x="1011" y="325" width="1" height="19" fill="#26a69a"/>
<rect x="1009" y="325" width="5" height="8" fill="#26a69a"/>
<rect x="1018" y="318" width="1" height="21" fill="#26a69a"/>
<rect x="1016" y="324" width="5" height="12" fill="#26a69a"/>
<rect x="1024" y="320" width="1" height="35" fill="#ef5350"/>
<rect x="1022" y="324" width="5" height="17" fill="#ef5350"/>
<rect x="1030" y="298" width="1" height="45" fill="#26a69a"/>
<rect x="1028" y="323" width="5" height="18" fill="#26a69a"/>
<rect x="1037" y="312" width="1" height="51" fill="#ef5350"/>
<rect x="1035" y="323" width="5" height="23" fill="#ef5350"/>
<rect x="1043" y="345" width="1" height="26" fill="#ef5350"/>
<rect x="1041" y="345" width="5" height="23" fill="#ef5350"/>
<rect x="1049" y="362" width="1" height="13" fill="#26a69a"/>
<rect x="1047" y="364" width="5" height="4" fill="#26a69a"/>
<rect x="1055" y="359" width="1" height="27" fill="#ef5350"/>
<rect x="1053" y="362" width="5" height="13" fill="#ef5350"/>
<rect x="1062" y="368" width="1" height="21" fill="#ef5350"/>
<rect x="1060" y="374" width="5" height="2" fill="#ef5350"/>
<rect x="1068" y="339" width="1" height="68" fill="#26a69a"/>
<rect x="1066" y="341" width="5" height="34" fill="#26a69a"/>
<rect x="1074" y="322" width="1" height="33" fill="#ef5350"/>
<rect x="1072" y="342" width="5" height="12" fill="#ef5350"/>
<rect x="1081" y="338" width="1" height="40" fill="#ef5350"/>
<rect x="1079" y="353" width="5" height="1" fill="#ef5350"/>
<rect x="1087" y="335" width="1" height="26" fill="#26a69a"/>
<rect x="1085" y="338" width="5" height="17" fill="#26a69a"/>
<rect x="1093" y="330" width="1" height="28" fill="#26a69a"/>
<rect x="1091" y="330" width="5" height="22" fill="#26a69a"/>
<rect x="1100" y="322" width="1" height="17" fill="#ef5350"/>
<rect x="1098" y="330" width="5" height="2" fill="#ef5350"/>
<rect x="1106" y="330" width="1" height="41" fill="#ef5350"/>
<rect x="1104" y="332" width="5" height="29" fill="#ef5350"/>
<rect x="1112" y="329" width="1" height="36" fill="#26a69a"/>
<rect x="1110" y="334" width="5" height="27" fill="#26a69a"/>
<rect x="1118" y="334" width="1" height="34" fill="#ef5350"/>
<rect x="1116" y="334" width="5" height="8" fill="#ef5350"/>
<rect x="1125" y="336" width="1" height="12" fill="#26a69a"/>
<rect x="1123" y="341" width="5" height="1" fill="#26a69a"/>
<rect x="1131" y="337" width="1" height="14" fill="#26a69a"/>
<rect x="1129" y="344" width="5" height="4" fill="#26a69a"/>
<rect x="1137" y="332" width="1" height="22" fill="#ef5350"/>
<rect x="1135" y="343" width="5" height="8" fill="#ef5350"/>
<rect x="1144" y="319" width="1" height="32" fill="#26a69a"/>
<rect x="1142" y="320" width="5" height="31" fill="#26a69a"/>
<rect x="1150" y="305" width="1" height="63" fill="#ef5350"/>
<rect x="1148" y="320" width="5" height="27" fill="#ef5350"/>
<rect x="1156" y="277" width="1" height="91" fill="#26a69a"/>
<rect x="1154" y="280" width="5" height="67" fill="#26a69a"/>
<rect x="1162" y="272" width="1" height="13" fill="#ef5350"/>
<rect x="1160" y="280" width="5" height="2" fill="#ef5350"/>
<rect x="1169" y="315" width="1" height="22" fill="#26a69a"/>
<rect x="1167" y="317" width="5" height="18" fill="#26a69a"/>
<rect x="1175" y="314" width="1" height="16" fill="#ef5350"/>
<rect x="1173" y="317" width="5" height="7" fill="#ef5350"/>
<rect x="1181" y="306" width="1" height="55" fill="#26a69a"/>
<rect x="1179" y="322" width="5" height="2" fill="#26a69a"/>
<rect x="1188" y="315" width="1" height="35" fill="#ef5350"/>
<rect x="1186" y="322" width="5" height="4" fill="#ef5350"/>
<rect x="1194" y="313" width="1" height="41" fill="#26a69a"/>
<rect x="1192" y="315" width="5" height="11" fill="#26a69a"/>
<rect x="1200" y="310" width="1" height="11" fill="#ef5350"/>
<rect x="1198" y="315" width="5" height="2" fill="#ef5350"/>
<rect x="1207" y="290" width="1" height="27" fill="#26a69a"/>
<rect x="1205" y="292" width="5" height="25" fill="#26a69a"/>
<rect x="1213" y="287" width="1" height="14" fill="#ef5350"/>
<rect x="1211" y="292" width="5" height="2" fill="#ef5350"/>
<rect x="1219" y="252" width="1" height="55" fill="#26a69a"/>
<rect x="1217" y="258" width="5" height="36" fill="#26a69a"/>
<rect x="1225" y="240" width="1" height="29" fill="#26a69a"/>
<rect x="1223" y="241" width="5" height="18" fill="#26a69a"/>
<rect x="1232" y="217" width="1" height="43" fill="#ef5350"/>
<rect x="1230" y="241" width="5" height="9" fill="#ef5350"/>
<rect x="1238" y="242" width="1" height="13" fill="#ef5350"/>
<rect x="1236" y="249" width="5" height="6" fill="#ef5350"/>
<rect x="1244" y="245" width="1" height="15" fill="#ef5350"/>
<rect x="1242" y="251" width="5" height="4" fill="#ef5350"/>
<rect x="1251" y="246" width="1" height="12" fill="#26a69a"/>
<rect x="1249" y="253" width="5" height="2" fill="#26a69a"/>
<rect x="1257" y="230" width="1" height="38" fill="#26a69a"/>
<rect x="1255" y="241" width="5" height="13" fill="#26a69a"/>
<rect x="1263" y="206" width="1" height="38" fill="#26a69a"/>
<rect x="1261" y="211" width="5" height="31" fill="#26a69a"/>
<rect x="1269" y="210" width="1" height="33" fill="#ef5350"/>
<rect x="1267" y="211" width="5" height="26" fill="#ef5350"/>
<rect x="1276" y="219" width="1" height="18" fill="#26a69a"/>
<rect x="1274" y="219" width="5" height="18" fill="#26a69a"/>
<rect x="1282" y="203" width="1" height="15" fill="#26a69a"/>
<rect x="1280" y="206" width="5" height="10" fill="#26a69a"/>
<rect x="1288" y="199" width="1" height="14" fill="#26a69a"/>
<rect x="1286" y="203" width="5" height="4" fill="#26a69a"/>
<rect x="1295" y="187" width="1" height="30" fill="#26a69a"/>
<rect x="1293" y="192" width="5" height="12" fill="#26a69a"/>
<rect x="1301" y="186" width="1" height="54" fill="#ef5350"/>
<rect x="1299" y="192" width="5" height="43" fill="#ef5350"/>
<rect x="1307" y="220" width="1" height="42" fill="#ef5350"/>
<rect x="1305" y="234" width="5" height="27" fill="#ef5350"/>
<rect x="1314" y="246" width="1" height="25" fill="#26a69a"/>
<rect x="1312" y="248" width="5" height="13" fill="#26a69a"/>
<rect x="1320" y="234" width="1" height="13" fill="#26a69a"/>
<rect x="1318" y="239" width="5" height="6" fill="#26a69a"/>
<rect x="1326" y="233" width="1" height="22" fill="#ef5350"/>
<rect x="1324" y="239" width="5" height="15" fill="#ef5350"/>
<rect x="1332" y="233" width="1" height="60" fill="#ef5350"/>
<rect x="1330" y="253" width="5" height="37" fill="#ef5350"/>
<rect x="1339" y="257" width="1" height="35" fill="#26a69a"/>
<rect x="1337" y="271" width="5" height="19" fill="#26a69a"/>
<rect x="1345" y="272" width="1" height="60" fill="#ef5350"/>
<rect x="1343" y="273" width="5" height="48" fill="#ef5350"/>
<rect x="1351" y="315" width="1" height="12" fill="#ef5350"/>
<rect x="1349" y="320" width="5" height="3" fill="#ef5350"/>
<rect x="1358" y="300" width="1" height="14" fill="#26a69a"/>
<rect x="1356" y="308" width="5" height="3" fill="#26a69a"/>
<rect x="1364" y="303" width="1" height="18" fill="#ef5350"/>
<rect x="1362" y="308" width="5" height="6" fill="#ef5350"/>
<rect x="1370" y="283" width="1" height="60" fill="#ef5350"/>
<rect x="1368" y="313" width="5" height="29" fill="#ef5350"/>
</g>
<g shape-rendering="crispEdges">
<line x1="1" y1="339.5" x2="1692" y2="339.5" stroke="#ef5350" stroke-width="1" stroke-dasharray="1 2"/>
<line x1="1" y1="341.5" x2="1692" y2="341.5" stroke="#2196f3" stroke-width="1" stroke-dasharray="1 2"/>
</g>
<g clip-path="url(#cr)">
<polyline points="-1.4,685.1 4.9,686.4 11.2,668.8 17.4,666.8 23.7,671.4 30.0,661.8 36.3,652.6 42.6,649.6 48.9,658.3 55.2,634.3 61.5,635.8 67.8,630.6 74.1,636.1 80.4,628.3 86.7,624.6 93.0,623.6 99.3,613.8 105.6,609.0 111.9,603.3 118.2,615.5 124.4,657.1 130.7,635.1 137.0,649.1 143.3,646.1 149.6,646.6 155.9,643.6 162.2,647.1 168.5,638.6 174.8,672.9 181.1,668.8 187.4,656.8 193.7,660.1 200.0,663.1 206.3,677.1 212.6,680.6 218.9,674.4 225.2,673.9 231.4,664.6 237.7,649.6 244.0,670.1 250.3,684.9 256.6,683.9 262.9,692.6 269.2,694.6 275.5,695.9 281.8,686.4 288.1,691.9 294.4,694.4 300.7,699.6 307.0,701.9 313.3,713.4 319.6,706.6 325.9,720.4 332.1,708.4 338.4,712.9 344.7,721.7 351.0,695.9 357.3,709.9 363.6,710.9 369.9,709.1 376.2,711.1 382.5,687.6 388.8,730.2 395.1,681.4 401.4,669.6 407.7,672.6 414.0,671.1 420.3,659.1 426.6,652.3 432.9,660.6 439.1,649.1 445.4,648.1 451.7,656.6 458.0,651.3 464.3,673.1 470.6,662.6 476.9,665.6 483.2,673.1 489.5,685.6 495.8,690.1 502.1,694.1 508.4,674.4 514.7,689.1 521.0,691.4 527.3,673.1 533.6,666.3 539.9,674.1 546.1,636.3 552.4,621.8 558.7,619.5 565.0,615.5 571.3,611.8 577.6,605.0 583.9,625.6 590.2,642.1 596.5,647.1 602.8,644.8 609.1,648.3 615.4,670.6 621.7,684.4 628.0,684.1 634.3,684.4 640.6,686.6 646.8,694.4 653.1,664.6 659.4,681.1 665.7,673.4 672.0,673.4 678.3,681.6 684.6,684.4 690.9,651.3 697.2,637.6 703.5,643.1 709.8,670.6 716.1,687.4 722.4,686.4 728.7,694.4 735.0,699.4 741.3,705.4 747.6,719.6 753.8,716.4 760.1,699.1 766.4,695.9 772.7,698.6 779.0,706.6 785.3,709.6 791.6,701.9 797.9,694.6 804.2,709.9 810.5,723.2 816.8,712.6 823.1,706.9 829.4,722.2 835.7,718.4 842.0,734.4 848.3,724.2 854.5,729.7 860.8,733.4 867.1,722.7 873.4,708.9 879.7,703.9 886.0,701.1 892.3,722.2 898.6,693.9 904.9,680.6 911.2,684.6 917.5,692.6 923.8,679.4 930.1,662.1 936.4,659.3 942.7,669.6 949.0,657.6 955.3,629.6 961.5,624.1 967.8,668.3 974.1,665.1 980.4,643.3 986.7,663.1 993.0,669.1 999.3,680.9 1005.6,692.6 1011.9,687.6 1018.2,687.1 1024.5,695.4 1030.8,683.4 1037.1,693.4 1043.4,704.4 1049.7,702.1 1056.0,706.6 1062.3,706.6 1068.5,680.4 1074.8,686.6 1081.1,687.4 1087.4,674.4 1093.7,669.1 1100.0,669.8 1106.3,688.6 1112.6,669.3 1118.9,674.1 1125.2,673.9 1131.5,674.6 1137.8,680.1 1144.1,655.6 1150.4,674.4 1156.7,634.1 1163.0,634.6 1169.2,659.1 1175.5,663.3 1181.8,662.6 1188.1,664.6 1194.4,657.3 1200.7,658.3 1207.0,642.1 1213.3,642.3 1219.6,621.6 1225.9,614.0 1232.2,620.8 1238.5,625.3 1244.8,626.1 1251.1,625.1 1257.4,617.5 1263.7,602.0 1270.0,628.3 1276.2,619.0 1282.5,612.0 1288.8,610.0 1295.1,605.0 1301.4,644.6 1307.7,664.0 1314.0,657.0 1320.3,650.2 1326.6,661.3 1332.9,683.5 1339.2,670.9 1345.5,696.9 1351.8,698.0 1358.1,686.9 1364.4,690.0 1370.7,703.5" fill="none" stroke="#7e57c2" stroke-width="1.1" stroke-linejoin="round" stroke-linecap="round"/>
<line x1="810" y1="739" x2="1414.5" y2="660.8" stroke="#2196f3" stroke-width="1.1"/>
</g>
<g shape-rendering="crispEdges">
<rect x="0" y="567" width="1838" height="1" fill="#e0e3eb"/>
<rect x="0" y="775" width="1838" height="1" fill="#e0e3eb"/>
<rect x="1760" y="0" width="1" height="810" fill="#e0e3eb"/>
<rect x="1761" y="28" width="4" height="1" fill="#e0e3eb"/>
<rect x="1761" y="79" width="4" height="1" fill="#e0e3eb"/>
<rect x="1761" y="129" width="4" height="1" fill="#e0e3eb"/>
<rect x="1761" y="179" width="4" height="1" fill="#e0e3eb"/>
<rect x="1761" y="230" width="4" height="1" fill="#e0e3eb"/>
<rect x="1761" y="280" width="4" height="1" fill="#e0e3eb"/>
<rect x="1761" y="331" width="4" height="1" fill="#e0e3eb"/>
<rect x="1761" y="381" width="4" height="1" fill="#e0e3eb"/>
<rect x="1761" y="431" width="4" height="1" fill="#e0e3eb"/>
<rect x="1761" y="482" width="4" height="1" fill="#e0e3eb"/>
<rect x="1761" y="532" width="4" height="1" fill="#e0e3eb"/>
<rect x="1761" y="575" width="4" height="1" fill="#e0e3eb"/>
<rect x="1761" y="634" width="4" height="1" fill="#e0e3eb"/>
<rect x="1761" y="693" width="4" height="1" fill="#e0e3eb"/>
<rect x="1761" y="752" width="4" height="1" fill="#e0e3eb"/>
</g>
<text x="1772.5" y="34.2" font-size="16" fill="#131722" font-weight="normal" text-anchor="start" textLength="59.5" lengthAdjust="spacingAndGlyphs">4360.00</text>
<text x="1772.5" y="85.2" font-size="16" fill="#131722" font-weight="normal" text-anchor="start" textLength="59.5" lengthAdjust="spacingAndGlyphs">4320.00</text>
<text x="1772.5" y="135.2" font-size="16" fill="#131722" font-weight="normal" text-anchor="start" textLength="59.5" lengthAdjust="spacingAndGlyphs">4280.00</text>
<text x="1772.5" y="185.2" font-size="16" fill="#131722" font-weight="normal" text-anchor="start" textLength="59.5" lengthAdjust="spacingAndGlyphs">4240.00</text>
<text x="1772.5" y="236.2" font-size="16" fill="#131722" font-weight="normal" text-anchor="start" textLength="59.5" lengthAdjust="spacingAndGlyphs">4200.00</text>
<text x="1772.5" y="286.2" font-size="16" fill="#131722" font-weight="normal" text-anchor="start" textLength="59.5" lengthAdjust="spacingAndGlyphs">4160.00</text>
<text x="1772.5" y="337.2" font-size="16" fill="#131722" font-weight="normal" text-anchor="start" textLength="59.5" lengthAdjust="spacingAndGlyphs">4120.00</text>
<text x="1772.5" y="387.2" font-size="16" fill="#131722" font-weight="normal" text-anchor="start" textLength="59.5" lengthAdjust="spacingAndGlyphs">4080.00</text>
<text x="1772.5" y="437.2" font-size="16" fill="#131722" font-weight="normal" text-anchor="start" textLength="59.5" lengthAdjust="spacingAndGlyphs">4040.00</text>
<text x="1772.5" y="488.2" font-size="16" fill="#131722" font-weight="normal" text-anchor="start" textLength="59.5" lengthAdjust="spacingAndGlyphs">4000.00</text>
<text x="1772.5" y="538.2" font-size="16" fill="#131722" font-weight="normal" text-anchor="start" textLength="59.5" lengthAdjust="spacingAndGlyphs">3960.00</text>
<text x="1772.5" y="581.2" font-size="16" fill="#131722" font-weight="normal" text-anchor="start" textLength="42" lengthAdjust="spacingAndGlyphs">80.00</text>
<text x="1772.5" y="640.2" font-size="16" fill="#131722" font-weight="normal" text-anchor="start" textLength="42" lengthAdjust="spacingAndGlyphs">60.00</text>
<text x="1772.5" y="699.2" font-size="16" fill="#131722" font-weight="normal" text-anchor="start" textLength="42" lengthAdjust="spacingAndGlyphs">40.00</text>
<text x="1772.5" y="758.2" font-size="16" fill="#131722" font-weight="normal" text-anchor="start" textLength="42" lengthAdjust="spacingAndGlyphs">20.00</text>
<rect x="1760" y="107.0" width="78" height="24.6" fill="#f44336"/>
<rect x="1760" y="119.5" width="5" height="1" fill="#fff" fill-opacity="0.6" shape-rendering="crispEdges"/>
<text x="1772.8" y="125.7" font-size="16" fill="#fff" font-weight="bold" text-anchor="start" textLength="59.5" lengthAdjust="spacingAndGlyphs">4288.32</text>
<rect x="1760" y="180.0" width="78" height="24.6" fill="#f44336"/>
<rect x="1760" y="192.5" width="5" height="1" fill="#fff" fill-opacity="0.6" shape-rendering="crispEdges"/>
<text x="1772.8" y="198.7" font-size="16" fill="#fff" font-weight="bold" text-anchor="start" textLength="59.5" lengthAdjust="spacingAndGlyphs">4229.75</text>
<rect x="1760" y="225.0" width="78" height="24.6" fill="#4caf50"/>
<rect x="1760" y="237.5" width="5" height="1" fill="#fff" fill-opacity="0.6" shape-rendering="crispEdges"/>
<text x="1772.8" y="243.7" font-size="16" fill="#fff" font-weight="bold" text-anchor="start" textLength="59.5" lengthAdjust="spacingAndGlyphs">4194.69</text>
<rect x="1760" y="262.0" width="78" height="24.6" fill="#4caf50"/>
<rect x="1760" y="274.5" width="5" height="1" fill="#fff" fill-opacity="0.6" shape-rendering="crispEdges"/>
<text x="1772.8" y="280.7" font-size="16" fill="#fff" font-weight="bold" text-anchor="start" textLength="59.5" lengthAdjust="spacingAndGlyphs">4165.31</text>
<rect x="1760" y="302.0" width="78" height="24.6" fill="#4caf50"/>
<rect x="1760" y="314.5" width="5" height="1" fill="#fff" fill-opacity="0.6" shape-rendering="crispEdges"/>
<text x="1772.8" y="320.7" font-size="16" fill="#fff" font-weight="bold" text-anchor="start" textLength="59.5" lengthAdjust="spacingAndGlyphs">4133.22</text>
<rect x="1760" y="453.0" width="78" height="24.6" fill="#4caf50"/>
<rect x="1760" y="465.5" width="5" height="1" fill="#fff" fill-opacity="0.6" shape-rendering="crispEdges"/>
<text x="1772.8" y="471.7" font-size="16" fill="#fff" font-weight="bold" text-anchor="start" textLength="59.5" lengthAdjust="spacingAndGlyphs">4013.38</text>
<rect x="1760" y="329" width="78" height="25" fill="#ef5350"/>
<rect x="1760" y="341" width="5" height="1" fill="#fff" fill-opacity="0.6" shape-rendering="crispEdges"/>
<text x="1772.8" y="347.8" font-size="16" fill="#fff" font-weight="bold" text-anchor="start" textLength="59.5" lengthAdjust="spacingAndGlyphs">4111.75</text>
<rect x="1692.3" y="329" width="66.5" height="25" rx="2" fill="#ef5350"/>
<text x="1698.5" y="347.8" font-size="16" fill="#fff" font-weight="bold" text-anchor="start" textLength="51" lengthAdjust="spacingAndGlyphs">Euro50</text>
<text x="74.5" y="798.6" font-size="16" fill="#131722" font-weight="normal" text-anchor="middle" >29</text>
<text x="187.5" y="798.6" font-size="16" fill="#131722" font-weight="normal" text-anchor="middle" stroke="#131722" stroke-width="0.55">Sept</text>
<text x="300.5" y="798.6" font-size="16" fill="#131722" font-weight="normal" text-anchor="middle" >6</text>
<text x="413.5" y="798.6" font-size="16" fill="#131722" font-weight="normal" text-anchor="middle" >11</text>
<text x="527.5" y="798.6" font-size="16" fill="#131722" font-weight="normal" text-anchor="middle" >14</text>
<text x="640.5" y="798.6" font-size="16" fill="#131722" font-weight="normal" text-anchor="middle" >19</text>
<text x="753.5" y="798.6" font-size="16" fill="#131722" font-weight="normal" text-anchor="middle" >22</text>
<text x="867.5" y="798.6" font-size="16" fill="#131722" font-weight="normal" text-anchor="middle" >27</text>
<text x="980.5" y="798.6" font-size="16" fill="#131722" font-weight="normal" text-anchor="middle" stroke="#131722" stroke-width="0.55">Oct</text>
<text x="1093.5" y="798.6" font-size="16" fill="#131722" font-weight="normal" text-anchor="middle" >5</text>
<text x="1207.5" y="798.6" font-size="16" fill="#131722" font-weight="normal" text-anchor="middle" >10</text>
<text x="1320.5" y="798.6" font-size="16" fill="#131722" font-weight="normal" text-anchor="middle" >13</text>
<text x="1427.5" y="798.6" font-size="16" fill="#131722" font-weight="normal" text-anchor="middle" >18</text>
<text x="1553.5" y="798.6" font-size="16" fill="#131722" font-weight="normal" text-anchor="middle" >24</text>
<text x="1741.5" y="798.6" font-size="16" fill="#131722" font-weight="normal" text-anchor="middle" stroke="#131722" stroke-width="0.55">Nov</text>
<g stroke="#131722" stroke-width="1.1" fill="none"><circle cx="1802.5" cy="794.5" r="4.8"/>
<line x1="1807.80" y1="794.50" x2="1809.90" y2="794.50"/>
<line x1="1806.25" y1="798.25" x2="1807.73" y2="799.73"/>
<line x1="1802.50" y1="799.80" x2="1802.50" y2="801.90"/>
<line x1="1798.75" y1="798.25" x2="1797.27" y2="799.73"/>
<line x1="1797.20" y1="794.50" x2="1795.10" y2="794.50"/>
<line x1="1798.75" y1="790.75" x2="1797.27" y2="789.27"/>
<line x1="1802.50" y1="789.20" x2="1802.50" y2="787.10"/>
<line x1="1806.25" y1="790.75" x2="1807.73" y2="789.27"/>
</g>
<rect x="0" y="1" width="470" height="27" fill="#fff" fill-opacity="0.5"/>
<rect x="0" y="28" width="176" height="44" fill="#fff" fill-opacity="0.5"/>
<rect x="0" y="72" width="147" height="48.5" fill="#fff" fill-opacity="0.5"/>
<text x="4.5" y="19.7" font-size="14.6" fill="#131722" font-weight="normal" text-anchor="start" textLength="47" lengthAdjust="spacingAndGlyphs">Euro50</text>
<text x="55.2" y="19.7" font-size="14.6" fill="#787b86" font-weight="normal" text-anchor="start" >·</text>
<text x="64.8" y="19.7" font-size="14.6" fill="#131722" font-weight="normal" text-anchor="start" textLength="16.4" lengthAdjust="spacingAndGlyphs">4h</text>
<circle cx="105.8" cy="14" r="8.8" fill="#009688" fill-opacity="0.15"/>
<circle cx="105.8" cy="14" r="4.2" fill="#009688"/>
<text x="130.8" y="19.7" font-size="12.6" textLength="55.5" lengthAdjust="spacingAndGlyphs"><tspan fill="#50535e">O</tspan><tspan fill="#ef5350">4134.24</tspan></text>
<text x="192.2" y="19.7" font-size="12.6" textLength="55" lengthAdjust="spacingAndGlyphs"><tspan fill="#50535e">H</tspan><tspan fill="#ef5350">4157.77</tspan></text>
<text x="253.6" y="19.7" font-size="12.6" textLength="53.8" lengthAdjust="spacingAndGlyphs"><tspan fill="#50535e">B</tspan><tspan fill="#ef5350">4110.75</tspan></text>
<text x="313.7" y="19.7" font-size="12.6" textLength="54" lengthAdjust="spacingAndGlyphs"><tspan fill="#50535e">C</tspan><tspan fill="#ef5350">4111.75</tspan></text>
<text x="375" y="19.7" font-size="12.6" fill="#ef5350" font-weight="normal" text-anchor="start" textLength="38.5" lengthAdjust="spacingAndGlyphs">−22.49</text>
<text x="418.2" y="19.7" font-size="12.6" fill="#ef5350" font-weight="normal" text-anchor="start" textLength="47" lengthAdjust="spacingAndGlyphs">(−0.54%)</text>
<rect x="3.5" y="30.5" width="61" height="37" rx="4" fill="#fff" stroke="#ef5350" stroke-width="1"/>
<text x="11" y="54" font-size="12.5" fill="#ef5350" font-weight="normal" text-anchor="start" textLength="45" lengthAdjust="spacingAndGlyphs">4111.75</text>
<text x="76.8" y="40.9" font-size="10.4" fill="#50535e" font-weight="normal" text-anchor="start" textLength="20.2" lengthAdjust="spacingAndGlyphs">1.38</text>
<rect x="69" y="46" width="35.5" height="21.8" rx="4" fill="#f3f5fb" fill-opacity="0.8"/>
<text x="76.8" y="60.8" font-size="12" fill="#131722" font-weight="normal" text-anchor="start" textLength="20" lengthAdjust="spacingAndGlyphs">200</text>
<rect x="109.5" y="30.5" width="61" height="37" rx="4" fill="#fff" stroke="#26a69a" stroke-width="1"/>
<text x="117.5" y="54" font-size="12.5" fill="#26a69a" font-weight="normal" text-anchor="start" textLength="44.5" lengthAdjust="spacingAndGlyphs">4113.13</text>
<text x="4.8" y="88.7" font-size="12" textLength="84.2" lengthAdjust="spacingAndGlyphs"><tspan fill="#131722">EMA</tspan><tspan fill="#50535e"> 21 close 0</tspan></text>
<text x="98" y="88.7" font-size="12" fill="#e91e63" font-weight="normal" text-anchor="start" textLength="44" lengthAdjust="spacingAndGlyphs">4159.93</text>
<text x="4.8" y="112.7" font-size="12" textLength="84.2" lengthAdjust="spacingAndGlyphs"><tspan fill="#131722">EMA</tspan><tspan fill="#50535e"> 34 close 0</tspan></text>
<text x="98" y="112.7" font-size="12" fill="#9c27b0" font-weight="normal" text-anchor="start" textLength="43.5" lengthAdjust="spacingAndGlyphs">4160.41</text>
<rect x="4.5" y="122.5" width="27.7" height="19.7" rx="3" fill="#fff" fill-opacity="0.9" stroke="#d6d9e0" stroke-width="1"/>
<polyline points="14.2,135 18.4,130.8 22.6,135" fill="none" stroke="#131722" stroke-width="1.3"/>
<text x="4.6" y="588.7" font-size="12"><tspan fill="#131722" textLength="16.2" lengthAdjust="spacingAndGlyphs">RSI</tspan></text>
<text x="26.3" y="588.7" font-size="12" fill="#50535e" font-weight="normal" text-anchor="start" textLength="12.4" lengthAdjust="spacingAndGlyphs">14</text>
<text x="47.4" y="588.7" font-size="12" fill="#7e57c2" font-weight="normal" text-anchor="start" textLength="31.1" lengthAdjust="spacingAndGlyphs">36.53</text>
</svg>
</body></html>
